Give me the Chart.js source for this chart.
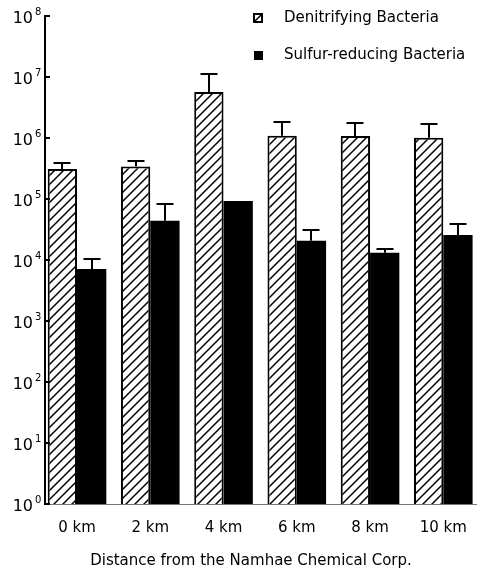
<!DOCTYPE html>
<html>
<head>
<meta charset="utf-8">
<script src="https://cdn.jsdelivr.net/npm/chart.js@4.4.1/dist/chart.umd.min.js"></script>
<style>html,body{margin:0;padding:0;background:#fff;}canvas{display:block;}</style>
</head>
<body>
<canvas id="c" width="477" height="573"></canvas>
<script>
// ---- data ----
const categories = ['0 km', '2 km', '4 km', '6 km', '8 km', '10 km'];
const seriesNames = ['Denitrifying Bacteria', 'Sulfur-reducing Bacteria'];
const denitrifying = [3.1e5, 3.4e5, 5.7e6, 1.09e6, 1.08e6, 1.01e6];
const denitrifyingUpper = [3.9e5, 4.2e5, 1.12e7, 1.85e6, 1.74e6, 1.70e6];
const sulfurReducing = [7.1e3, 4.4e4, 9.3e4, 2.07e4, 1.32e4, 2.57e4];
const sulfurReducingUpper = [1.03e4, 8.2e4, null, 3.05e4, 1.51e4, 3.9e4];
const yTickValues = [1, 10, 100, 1e3, 1e4, 1e5, 1e6, 1e7, 1e8];
const yTickBase = '10';
const yTickExponents = ['0', '1', '2', '3', '4', '5', '6', '7', '8'];
const xTitle = 'Distance from the Namhae Chemical Corp.';

const FONT = 'DejaVu Sans';
const canvas = document.getElementById('c');
const mainCtx = canvas.getContext('2d');

function makeHatch() {
  const p = 9;
  const c = document.createElement('canvas');
  c.width = p; c.height = p;
  const g = c.getContext('2d');
  g.fillStyle = '#fff'; g.fillRect(0, 0, p, p);
  g.strokeStyle = '#000'; g.lineWidth = 1.5;
  g.beginPath();
  g.moveTo(-1, p + 1); g.lineTo(p + 1, -1);
  g.moveTo(-2, 2); g.lineTo(2, -2);
  g.moveTo(p - 2, p + 2); g.lineTo(p + 2, p - 2);
  g.stroke();
  return mainCtx.createPattern(c, 'repeat');
}
function makeHatchIcon() {
  const c = document.createElement('canvas');
  c.width = 10; c.height = 10;
  const g = c.getContext('2d');
  g.fillStyle = '#fff'; g.fillRect(0, 0, 10, 10);
  g.strokeStyle = '#000'; g.lineWidth = 2;
  g.strokeRect(1, 1, 8, 8);
  g.lineWidth = 1.6;
  g.beginPath(); g.moveTo(1, 9); g.lineTo(9, 1); g.stroke();
  return c;
}
function makeSolidIcon() {
  const c = document.createElement('canvas');
  c.width = 9; c.height = 9;
  const g = c.getContext('2d');
  g.fillStyle = '#000'; g.fillRect(0, 0, 9, 9);
  return c;
}
const hatch = makeHatch();
const legendIcons = [makeHatchIcon(), makeSolidIcon()];

const decor = {
  id: 'decor',
  afterLayout(chart) {
    const lg = chart.legend;
    if (lg) { lg.left = 217.5; lg.top = -11.5; }
  },
  afterDatasetsDraw(chart) {
    const ctx = chart.ctx, ys = chart.scales.y;
    [denitrifyingUpper, sulfurReducingUpper].forEach((upper, di) => {
      const meta = chart.getDatasetMeta(di);
      meta.data.forEach((bar, i) => {
        if (upper[i] == null) return;
        const yTop = Math.round(ys.getPixelForValue(upper[i]));
        const x = Math.round(bar.x);
        ctx.save();
        ctx.strokeStyle = '#000'; ctx.lineWidth = 2;
        ctx.beginPath();
        ctx.moveTo(x, bar.y); ctx.lineTo(x, yTop);
        ctx.moveTo(x - 8.5, yTop); ctx.lineTo(x + 8.5, yTop);
        ctx.stroke();
        ctx.restore();
      });
    });
  },
  afterDraw(chart) {
    const ctx = chart.ctx, ys = chart.scales.y, left = chart.chartArea.left;
    ctx.save();
    ctx.strokeStyle = '#000'; ctx.fillStyle = '#000'; ctx.lineWidth = 2;
    yTickValues.forEach((v, i) => {
      const py = Math.round(ys.getPixelForValue(v));
      ctx.beginPath(); ctx.moveTo(left, py); ctx.lineTo(left + 5, py); ctx.stroke();
      ctx.textBaseline = 'alphabetic';
      ctx.font = '16px "' + FONT + '"';
      ctx.textAlign = 'right';
      ctx.fillText(yTickBase, 33, py + 7);
      ctx.font = '10px "' + FONT + '"';
      ctx.textAlign = 'left';
      ctx.fillText(yTickExponents[i], 35, py - 1);
    });
    ctx.restore();
  }
};

new Chart(canvas, {
  type: 'bar',
  data: {
    labels: categories.map((_, i) => i),
    datasets: [
      { label: seriesNames[0], data: denitrifying, backgroundColor: hatch, borderColor: '#000', borderWidth: 2,
        categoryPercentage: 0.8, barPercentage: 1.0 },
      { label: seriesNames[1], data: sulfurReducing, backgroundColor: '#000', borderColor: '#000', borderWidth: 0,
        categoryPercentage: 0.8, barPercentage: 1.0 }
    ]
  },
  options: {
    responsive: false,
    animation: false,
    devicePixelRatio: 1,
    layout: { padding: { left: 25, top: 16, right: 0, bottom: 0 } },
    scales: {
      x: {
        type: 'linear', min: -0.437, max: 5.46, offset: false,
        grid: { display: false, drawTicks: true, tickLength: 15 },
        border: { display: true, color: '#777', width: 1 },
        afterBuildTicks: (s) => { s.ticks = categories.map((_, i) => ({ value: i })); },
        afterFit: (s) => { s.height = 40; s.paddingLeft = 0; s.paddingRight = 0; },
        ticks: {
          autoSkip: false, maxRotation: 0, padding: 0, color: '#000',
          font: { family: FONT, size: 15 },
          callback: (v) => (categories[v] !== undefined ? categories[v] : '')
        }
      },
      y: {
        type: 'logarithmic', min: 1, max: 1e8,
        grid: { display: false, drawTicks: false },
        border: { display: true, color: '#000', width: 2 },
        ticks: { display: false },
        afterFit: (s) => { s.width = 20; s.paddingTop = 0; s.paddingBottom = 0; }
      }
    },
    plugins: {
      tooltip: { enabled: false },
      legend: {
        position: 'chartArea', align: 'start',
        labels: {
          color: '#000', font: { family: FONT, size: 15 },
          usePointStyle: true, pointStyleWidth: 37, padding: 22,
          generateLabels(chart) {
            const items = Chart.defaults.plugins.legend.labels.generateLabels(chart);
            items.forEach((it, i) => { it.pointStyle = legendIcons[i]; });
            return items;
          }
        }
      },
      title: {
        display: true, position: 'bottom', text: xTitle, color: '#000',
        font: { family: FONT, size: 15, weight: 'normal' },
        padding: { top: 8, bottom: 3 }
      }
    }
  },
  plugins: [decor]
});
</script>
</body>
</html>
